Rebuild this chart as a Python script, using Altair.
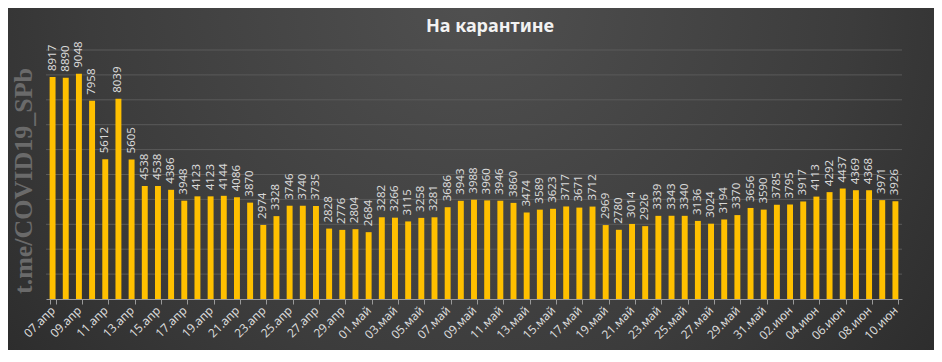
import altair as alt
import pandas as pd

apr_days = list(range(7, 31))
may_days = list(range(1, 32))
jun_days = list(range(1, 11))

apr_values = [8917, 8890, 9048, 7958, 5612, 8039, 5605, 4538, 4538, 4386, 3948, 4123,
              4123, 4144, 4086, 3870, 2974, 3328, 3746, 3740, 3735, 2828, 2776, 2804]
may_values = [2684, 3282, 3266, 3115, 3258, 3281, 3686, 3943, 3988, 3960, 3946, 3860,
              3474, 3589, 3623, 3717, 3671, 3712, 2969, 2780, 3014, 2926, 3339, 3343,
              3340, 3136, 3024, 3194, 3370, 3656, 3590]
jun_values = [3785, 3795, 3917, 4113, 4292, 4437, 4369, 4368, 3971, 3926]

grid_values = [1000, 2000, 3000, 4000, 5000, 6000, 7000, 8000, 9000, 10000]

title_text = "На карантине"
watermark_text = "t.me/COVID19_SPb"

labels = ([f"{d:02d}.апр" for d in apr_days] +
          [f"{d:02d}.май" for d in may_days] +
          [f"{d:02d}.июн" for d in jun_days])
values = apr_values + may_values + jun_values
df = pd.DataFrame({"date": labels, "value": values})

W, H = 856, 249
PAD = {"left": 38, "top": 42, "right": 32, "bottom": 51}

xscale = alt.Scale(domain=labels, paddingInner=0.55, paddingOuter=0.275)
yscale = alt.Scale(domain=[0, 10000])

bg = alt.Chart(alt.Data(values=[{"k": 1}])).mark_rect(
    fill={"gradient": "radial", "x1": 0.5, "y1": 0.3, "r1": 0.0,
          "x2": 0.5, "y2": 0.3, "r2": 0.75,
          "stops": [{"offset": 0, "color": "#505050"},
                    {"offset": 0.55, "color": "#3c3c3c"},
                    {"offset": 1, "color": "#252525"}]}
).encode(
    x=alt.value(-PAD["left"]), x2=alt.value(W + PAD["right"]),
    y=alt.value(-PAD["top"]), y2=alt.value(H + PAD["bottom"])
)

grid = alt.Chart(pd.DataFrame({"g": grid_values})).mark_rule(
    color="#5a5a5a", strokeWidth=1
).encode(y=alt.Y("g:Q", scale=yscale, axis=None))

bars = alt.Chart(df).mark_bar(color="#FFC000").encode(
    x=alt.X("date:N", scale=xscale, sort=labels, title=None,
            axis=alt.Axis(values=labels[::2], labelAngle=315, labelAlign="right",
                          labelBaseline="middle", labelPadding=4,
                          labelColor="#d9d9d9", labelFont="Noto Sans", labelFontSize=12,
                          domainColor="#9a9a9a", tickColor="#9a9a9a", tickSize=5,
                          tickBand="extent", grid=False, zindex=1)),
    y=alt.Y("value:Q", scale=yscale, axis=None)
)

text = alt.Chart(df).mark_text(
    angle=270, align="left", baseline="middle", dx=6,
    font="Noto Sans", fontSize=11.5, color="#d9d9d9"
).encode(
    x=alt.X("date:N", scale=xscale, sort=labels),
    y=alt.Y("value:Q", scale=yscale),
    text=alt.Text("value:Q")
)

wm = alt.Chart(alt.Data(values=[{"t": watermark_text}])).mark_text(
    angle=270, align="center", baseline="middle",
    font="Liberation Serif", fontWeight="bold", fontSize=26, color="#6a6a6a"
).encode(x=alt.value(-22), y=alt.value(131), text="t:N")

chart = alt.layer(bg, grid, bars, text, wm).properties(
    width=W, height=H,
    autosize=alt.AutoSizeParams(type="none"),
    padding=PAD,
    title=alt.TitleParams(title_text, font="Noto Sans", fontSize=18, fontWeight="bold",
                          color="#f2f2f2", offset=-28, dx=16)
).configure(background="#2c2c2c").configure_view(stroke=None)

chart.save("out.html", embed_options={"renderer": "svg", "actions": False})
